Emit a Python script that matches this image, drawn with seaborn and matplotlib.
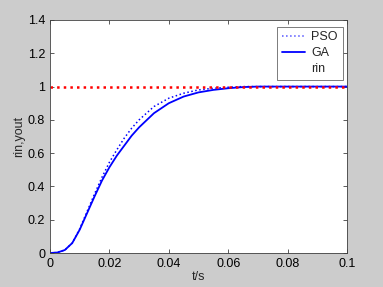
import numpy as np
import pandas as pd
import seaborn as sns
import matplotlib
matplotlib.use("Agg")
import matplotlib.pyplot as plt
from matplotlib.lines import Line2D

t = [0, 0.0025, 0.005, 0.0075, 0.01, 0.0125, 0.015, 0.0175, 0.02, 0.0225, 0.025,
     0.0275, 0.03, 0.035, 0.04, 0.045, 0.05, 0.055, 0.06, 0.065, 0.07, 0.08, 0.09, 0.1]
ga = [0, 0.003, 0.018, 0.06, 0.14, 0.24, 0.34, 0.435, 0.515, 0.585, 0.645,
      0.705, 0.755, 0.84, 0.90, 0.94, 0.965, 0.98, 0.99, 0.997, 1.0, 1.0, 1.0, 1.0]
pso = [0, 0.003, 0.018, 0.06, 0.145, 0.25, 0.355, 0.455, 0.545, 0.62, 0.69,
       0.75, 0.80, 0.88, 0.93, 0.96, 0.98, 0.99, 0.996, 1.0, 1.0, 1.0, 1.0, 1.0]
rin = [1.0] * len(t)

df = pd.DataFrame({"t": t, "PSO": pso, "GA": ga, "rin": rin})

sns.set_style("ticks")
plt.rcParams['font.family'] = ['Liberation Sans', 'DejaVu Sans']

fig = plt.figure(figsize=(3.83, 2.87), dpi=100, facecolor='#cccccc')
ax = fig.add_axes([50/383, 1 - 253/287, 297/383, 233/287])
ax.set_facecolor('white')

sns.lineplot(data=df, x="t", y="PSO", ax=ax, color='blue', linestyle=':', linewidth=1.1)
sns.lineplot(data=df, x="t", y="GA", ax=ax, color='blue', linestyle='-', linewidth=1.3)
sns.lineplot(data=df, x="t", y="rin", ax=ax, color='red', linestyle=':', linewidth=1.8)

ax.set_xlim(0, 0.1)
ax.set_ylim(0, 1.4)
ax.set_xticks([0, 0.02, 0.04, 0.06, 0.08, 0.1])
ax.set_xticklabels(['0', '0.02', '0.04', '0.06', '0.08', '0.1'])
ax.set_yticks([0, 0.2, 0.4, 0.6, 0.8, 1, 1.2, 1.4])
ax.set_yticklabels(['0', '0.2', '0.4', '0.6', '0.8', '1', '1.2', '1.4'])
ax.tick_params(direction='in', top=True, right=True, labelsize=9, length=3, width=0.6,
               colors='#404040', labelcolor='black')
for s in ax.spines.values():
    s.set_color('#404040')
    s.set_linewidth(0.6)
ax.set_xlabel('t/s', fontsize=9, labelpad=1)
ax.set_ylabel('rin,yout', fontsize=9, labelpad=2)

handles = [Line2D([], [], color='#5555ff', linestyle=':', linewidth=1.1),
           Line2D([], [], color='blue', linestyle='-', linewidth=1.3),
           Line2D([], [], linestyle='none')]
leg = ax.legend(handles, ['PSO', 'GA', 'rin'], loc='upper right', fontsize=9,
                frameon=True, fancybox=False, edgecolor='#404040',
                bbox_to_anchor=(1 - 4/297, 1 - 6.5/233),
                borderaxespad=0.0, handlelength=1.8, handletextpad=0.55,
                labelspacing=0.3, borderpad=0.4)
leg.get_frame().set_linewidth(0.6)

fig.savefig('out.png', dpi=100, facecolor=fig.get_facecolor())
